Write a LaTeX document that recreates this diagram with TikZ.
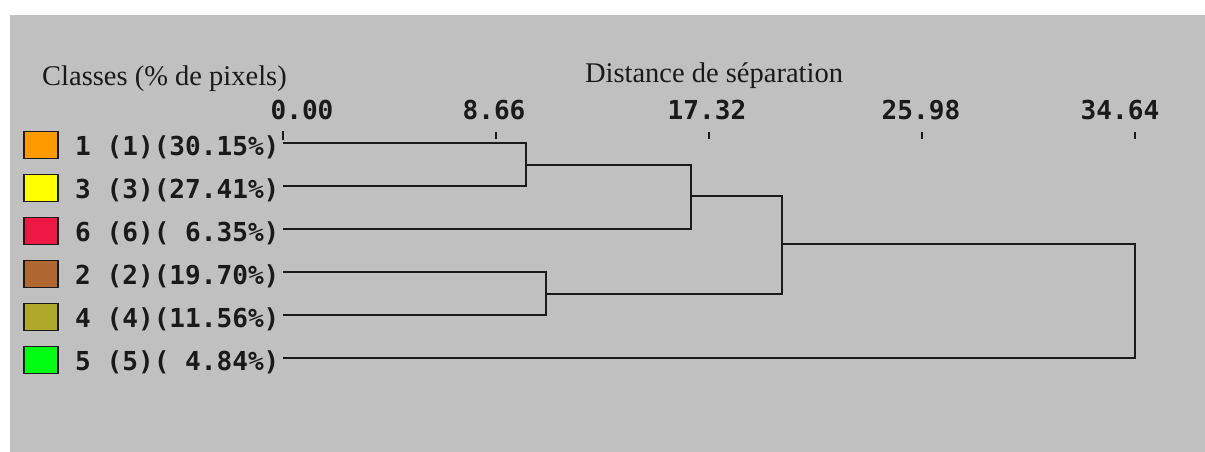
\documentclass[tikz,border=0pt]{standalone}
\usepackage{fontspec}
\setmainfont{Liberation Serif}
\setmonofont{DejaVu Sans Mono}
\definecolor{bggray}{HTML}{C0C0C0}
\definecolor{inkc}{HTML}{1A1A1A}
\definecolor{corange}{HTML}{FF9900}
\definecolor{cyellow}{HTML}{FFFF00}
\definecolor{cred}{HTML}{EE1844}
\definecolor{cbrown}{HTML}{B06830}
\definecolor{colive}{HTML}{B0A828}
\definecolor{cgreen}{HTML}{00FF10}
\begin{document}
\begin{tikzpicture}[x=1pt,y=-1pt,
  lbl/.style={anchor=base west, inner sep=0pt, text=inkc, font=\ttfamily\bfseries\fontsize{26.1}{30}\selectfont},
  tlab/.style={anchor=base, inner sep=0pt, text=inkc, font=\ttfamily\bfseries\fontsize{26.1}{30}\selectfont},
  head/.style={inner sep=0pt, text=inkc, font=\fontsize{28.5}{32}\selectfont},
  swatch/.style={draw=inkc, line width=1.6pt, minimum width=34pt, minimum height=27pt, inner sep=0pt},
  branch/.style={draw=inkc, line width=2pt},
  tickmark/.style={draw=inkc, line width=2pt}]
\useasboundingbox (0,0) rectangle (1205,452);
\fill[bggray] (10,15) rectangle (1205,452);

% headers
\node[head, anchor=base west] (hcl) at (42,85) {Classes (\% de pixels)};
\node[head, anchor=base] (hds) at (714,83) {Distance de séparation};

% axis tick labels
\node[tlab] (t0) at (302,119) {0.00};
\node[tlab] (t1) at (494,119) {8.66};
\node[tlab] (t2) at (707,119) {17.32};
\node[tlab] (t3) at (921,119) {25.98};
\node[tlab] (t4) at (1120,119) {34.64};
% ticks
\coordinate (k0a) at (283,131); \coordinate (k0b) at (283,140);
\coordinate (k1a) at (496,132); \coordinate (k1b) at (496,139);
\coordinate (k2a) at (709,132); \coordinate (k2b) at (709,139);
\coordinate (k3a) at (922,132); \coordinate (k3b) at (922,139);
\coordinate (k4a) at (1135,132); \coordinate (k4b) at (1135,139);
\draw[tickmark] (k0a) -- (k0b);
\draw[tickmark] (k1a) -- (k1b);
\draw[tickmark] (k2a) -- (k2b);
\draw[tickmark] (k3a) -- (k3b);
\draw[tickmark] (k4a) -- (k4b);

% swatches
\node[swatch, fill=corange] (s1) at (41,145) {};
\node[swatch, fill=cyellow] (s3) at (41,188) {};
\node[swatch, fill=cred]    (s6) at (41,231) {};
\node[swatch, fill=cbrown]  (s2) at (41,274) {};
\node[swatch, fill=colive]  (s4) at (41,317) {};
\node[swatch, fill=cgreen]  (s5) at (41,360) {};

% labels
\node[lbl] (n1) at (75,155) {1 (1)(30.15\%)};
\node[lbl] (n3) at (75,198) {3 (3)(27.41\%)};
\node[lbl] (n6) at (75,241) {6 (6)(~6.35\%)};
\node[lbl] (n2) at (75,284) {2 (2)(19.70\%)};
\node[lbl] (n4) at (75,327) {4 (4)(11.56\%)};
\node[lbl] (n5) at (75,370) {5 (5)(~4.84\%)};

% leaf starts
\coordinate (l1) at (283,143);
\coordinate (l3) at (283,186);
\coordinate (l6) at (283,229);
\coordinate (l2) at (283,272);
\coordinate (l4) at (283,315);
\coordinate (l5) at (283,358);
% merge points
\coordinate (m13) at (526,164.5);
\coordinate (m136) at (691,196);
\coordinate (m24) at (546,293.5);
\coordinate (m12346) at (782,244);
\coordinate (mroot) at (1135,300);

\draw[branch] (l1) -| (m13) |- (l3);
\draw[branch] (m13) -| (m136) |- (l6);
\draw[branch] (l2) -| (m24) |- (l4);
\draw[branch] (m136) -| (m12346) |- (m24);
\draw[branch] (m12346) -| (mroot) |- (l5);
\end{tikzpicture}
\end{document}
